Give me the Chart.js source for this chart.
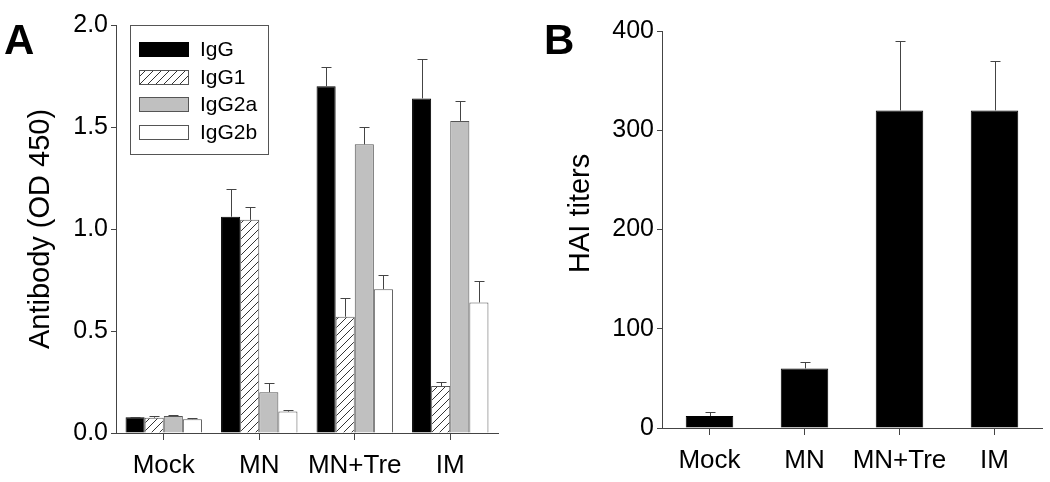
<!DOCTYPE html>
<html>
<head>
<meta charset="utf-8">
<script src="https://cdn.jsdelivr.net/npm/chart.js@4.4.1/dist/chart.umd.min.js"></script>
<style>
  body { margin: 0; background: #fff; }
  .panel { position: absolute; top: 0; }
  #panelA { left: 0; }
  #panelB { left: 530px; }
</style>
</head>
<body>
<div class="panel" id="panelA"><canvas id="chartA" width="530" height="482"></canvas></div>
<div class="panel" id="panelB"><canvas id="chartB" width="520" height="482"></canvas></div>
<script>
// data
let groups = ['Mock', 'MN', 'MN+Tre', 'IM'];
let seriesNames = ['IgG', 'IgG1', 'IgG2a', 'IgG2b'];

let igg = [0.077, 1.06, 1.70, 1.64];
let iggErr = [0.003, 0.135, 0.095, 0.195];
let igg1 = [0.075, 1.045, 0.57, 0.23];
let igg1Err = [0.008, 0.065, 0.09, 0.02];
let igg2a = [0.083, 0.20, 1.415, 1.53];
let igg2aErr = [0.003, 0.045, 0.085, 0.097];
let igg2b = [0.068, 0.105, 0.705, 0.64];
let igg2bErr = [0.004, 0.01, 0.068, 0.107];

let hai = [12, 60, 320, 320];
let haiErr = [4.5, 6.5, 70, 50];

let ticksA = [0, 0.5, 1.0, 1.5, 2.0];
let ticksB = [0, 100, 200, 300, 400];

Chart.defaults.font.family = "'Liberation Sans', Arial, sans-serif";
Chart.defaults.color = '#000';

// hatch pattern for IgG1
let hc = document.createElement('canvas');
hc.width = 8; hc.height = 8;
let hctx = hc.getContext('2d');
hctx.fillStyle = '#fff';
hctx.fillRect(0, 0, 8, 8);
hctx.strokeStyle = '#333';
hctx.lineWidth = 1;
hctx.beginPath();
hctx.moveTo(0, 8); hctx.lineTo(8, 0);
hctx.moveTo(-1, 1); hctx.lineTo(1, -1);
hctx.moveTo(7, 9); hctx.lineTo(9, 7);
hctx.stroke();
let hatch = hctx.createPattern(hc, 'repeat');

let fills = ['#000', hatch, '#c0c0c0', '#fff'];
let borders = ['#000', '#555', '#555', '#555'];

// one-sided error bars with cap
let errorBars = {
    id: 'errorBars',
    afterDatasetsDraw(chart) {
        let ctx = chart.ctx;
        let y = chart.scales.y;
        ctx.save();
        ctx.strokeStyle = '#444';
        ctx.lineWidth = 1;
        chart.data.datasets.forEach(function (ds, i) {
            let meta = chart.getDatasetMeta(i);
            meta.data.forEach(function (bar, j) {
                let top = y.getPixelForValue(ds.data[j] + ds.errors[j]);
                let x = Math.round(bar.x) + 0.5;
                let yt = Math.round(top) + 0.5;
                ctx.beginPath();
                ctx.moveTo(x, bar.y);
                ctx.lineTo(x, yt);
                ctx.moveTo(x - 5, yt);
                ctx.lineTo(x + 5, yt);
                ctx.stroke();
            });
        });
        ctx.restore();
    }
};

// panel letter
function panelLetter(letter, x, y) {
    return {
        id: 'letter' + letter,
        afterDraw(chart) {
            let ctx = chart.ctx;
            ctx.save();
            ctx.font = "bold 42px 'Liberation Sans', Arial, sans-serif";
            ctx.fillStyle = '#000';
            ctx.textBaseline = 'alphabetic';
            ctx.fillText(letter, x, y);
            ctx.restore();
        }
    };
}

// boxed legend inside the plot
let boxLegend = {
    id: 'boxLegend',
    afterDraw(chart) {
        let ctx = chart.ctx;
        ctx.save();
        ctx.strokeStyle = '#555';
        ctx.lineWidth = 1;
        ctx.fillStyle = '#fff';
        ctx.fillRect(130.5, 25.5, 138, 129);
        ctx.strokeRect(130.5, 25.5, 138, 129);
        ctx.font = "21px 'Liberation Sans', Arial, sans-serif";
        ctx.textBaseline = 'middle';
        let rows = [49, 77, 104, 132];
        chart.data.datasets.forEach(function (ds, i) {
            ctx.fillStyle = ds.backgroundColor;
            ctx.fillRect(139.5, rows[i] - 7 + 0.5, 49, 14);
            ctx.strokeStyle = ds.borderColor;
            ctx.strokeRect(139.5, rows[i] - 7 + 0.5, 49, 14);
            ctx.fillStyle = '#000';
            ctx.fillText(ds.label, 200, rows[i] + 1);
        });
        ctx.restore();
    }
};

function axes(yTicks, yTitle, yWidth, xHeight, titlePad, fmt) {
    return {
        x: {
            type: 'category',
            offset: true,
            grid: { offset: false, drawOnChartArea: false, tickLength: 7, color: '#444' },
            border: { display: true, color: '#444', width: 1 },
            ticks: { font: { size: 26 }, padding: 10, color: '#000', autoSkip: false, maxRotation: 0, minRotation: 0 },
            afterFit: function (s) { s.height = xHeight; }
        },
        y: {
            min: yTicks[0],
            max: yTicks[yTicks.length - 1],
            afterBuildTicks: function (s) { s.ticks = yTicks.map(function (v) { return { value: v }; }); },
            grid: { drawOnChartArea: false, tickLength: 5, color: '#444' },
            border: { display: true, color: '#444', width: 1 },
            ticks: { font: { size: 25 }, padding: 3, color: '#000', callback: fmt },
            title: { display: true, text: yTitle, font: { size: 29 }, padding: { top: titlePad, bottom: 0 }, color: '#000' },
            afterFit: function (s) { s.width = yWidth; }
        }
    };
}

let dsA = [igg, igg1, igg2a, igg2b].map(function (vals, i) {
    return {
        label: seriesNames[i],
        data: vals,
        errors: [iggErr, igg1Err, igg2aErr, igg2bErr][i],
        backgroundColor: fills[i],
        borderColor: borders[i],
        borderWidth: 1,
        categoryPercentage: 0.8,
        barPercentage: 1.0
    };
});

var chartA = new Chart(document.getElementById('chartA').getContext('2d'), {
    type: 'bar',
    data: { labels: groups, datasets: dsA },
    options: {
        responsive: false,
        animation: false,
        devicePixelRatio: 1,
        layout: { padding: { left: 0, top: 25, right: 32, bottom: 0 } },
        scales: axes(ticksA, 'Antibody (OD 450)', 116, 49, 24, function (v) { return Number(v).toFixed(1); }),
        plugins: { legend: { display: false }, tooltip: { enabled: false } }
    },
    plugins: [errorBars, boxLegend, panelLetter('A', 4, 54)]
});

var chartB = new Chart(document.getElementById('chartB').getContext('2d'), {
    type: 'bar',
    data: {
        labels: groups,
        datasets: [{
            label: 'HAI titers',
            data: hai,
            errors: haiErr,
            backgroundColor: '#000',
            borderColor: '#000',
            borderWidth: 1,
            categoryPercentage: 0.5,
            barPercentage: 1.0
        }]
    },
    options: {
        responsive: false,
        animation: false,
        devicePixelRatio: 1,
        layout: { padding: { left: 0, top: 31, right: 8, bottom: 0 } },
        // leading spaces nudge the title up a little, as in the original
        scales: axes(ticksB, '    HAI titers', 132, 54, 34, function (v) { return v; }),
        plugins: { legend: { display: false }, tooltip: { enabled: false } }
    },
    plugins: [errorBars, panelLetter('B', 14, 54)]
});
</script>
</body>
</html>
